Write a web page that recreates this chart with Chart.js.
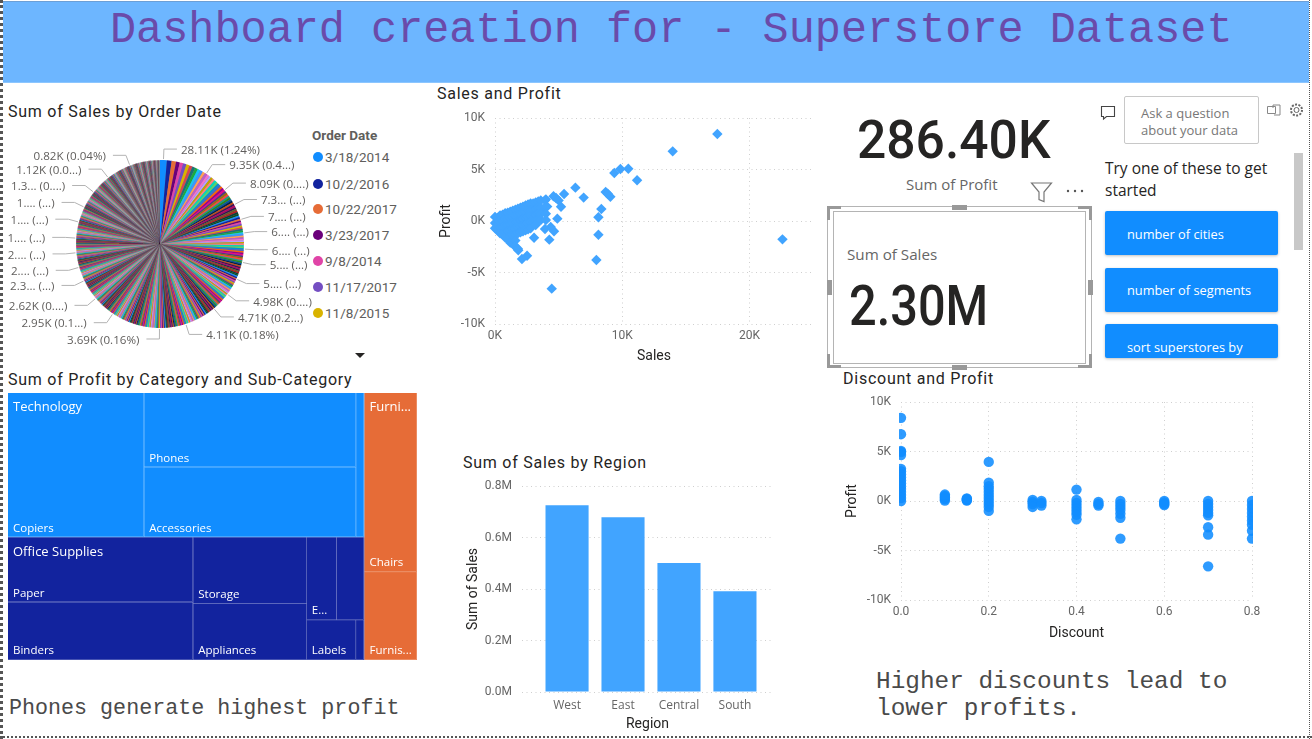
<!DOCTYPE html>
<html><head><meta charset="utf-8">
<script src="https://cdn.jsdelivr.net/npm/chart.js@4"></script>
<style>
html,body{margin:0;padding:0;background:#fff;overflow:hidden}
#page{position:relative;width:1312px;height:739px;overflow:hidden;background:#fff}
.t{position:absolute;white-space:pre}
canvas{position:absolute;display:block}
</style></head><body><div id="page"></div>
<script>
/* ---------- pie: sales per order date, in tens of dollars, largest first ---------- */
const orderDates=["3/18/2014","10/2/2016","10/22/2017","3/23/2017","9/8/2014","11/17/2017","11/8/2015"];
const pieSales=[2811,1960,1830,1530,1440,1370,1310,1280,1230,1190,1150,1110,1080,1050,1020,
935,928,915,907,893,884,872,858,841,826,817,809,
801,792,783,776,767,761,752,744,738,730,
727,725,721,718,716,712,709,705,703,700,
696,689,684,679,673,666,662,657,650,
646,641,634,631,625,621,614,610,606,600,
596,591,584,581,574,571,566,559,556,551,546,
541,538,536,534,531,528,527,524,521,519,516,514,511,510,
509,508,507,507,506,505,505,504,503,503,502,501,500,499,498,
497,496,495,494,493,491,490,489,487,486,485,483,482,480,478,475,472,
470,468,467,465,464,462,461,459,458,456,455,453,451,450,448,447,445,443,442,440,438,436,434,432,430,427,425,423,420,418,415,412,
410,408,407,405,404,402,401,399,398,396,395,393,392,390,389,387,386,384,383,381,380,379,377,376,375,373,372,370,369,
368,367,366,365,364,362,361,360,359,358,357,356,355,354,353,352,350,349,348,347,346,345,344,343,342,341,340,339,338,337,336,335,334,333,332,331,330,329,328,327,326,325,324,323,322,321,320,319,318,316,315,314,313,312,310,309,308,307,305,304,303,302,300,298,296,
294,293,292,291,290,289,288,287,286,285,284,283,282,281,280,279,278,277,276,275,274,273,272,271,270,269,268,267,266,265,265,264,263,263,262,262,
261,260,259,258,257,256,255,254,254,253,252,251,250,249,248,248,247,246,245,244,243,243,242,241,240,239,238,237,236,235,
234,233,232,231,230,229,229,228,227,227,226,225,224,224,223,222,222,221,220,220,219,218,218,217,216,216,215,214,
213,213,212,211,211,210,210,209,208,208,207,207,206,206,205,205,204,204,203,203,202,202,201,201,200,200,199,199,198,198,
197,197,196,196,195,194,194,193,193,192,192,191,190,190,189,189,188,188,187,186,186,185,185,184,184,183,182,182,181,180,180,179,178,
177,177,176,175,175,174,174,173,172,172,171,171,170,170,169,168,168,167,167,166,165,165,164,164,163,163,162,161,161,160,160,159,158,158,157,157,156,155,155,154,
153,153,152,152,151,151,150,150,149,149,148,148,147,147,146,146,145,145,144,144,143,143,143,142,142,141,141,140,140,140,139,139,138,138,138,137,137,136,136,135,135,135,134,134,
133,133,133,132,132,132,131,131,131,130,130,130,129,129,129,128,128,128,127,127,127,126,126,126,125,125,125,124,124,124,123,123,123,122,122,122,121,121,121,120,120,120,119,119,119,118,118,118,117,117,116,116,116,115,115,115,
114,114,114,113,113,113,112,112,112,112,111,111,111,110,110,110,110,109,109,109,108,108,108,108,107,107,107,106,106,106,106,105,105,105,104,104,104,104,103,103,103,103,102,102,102,102,101,101,101,101,100,100,100,100,99,99,99,99,98,98,98,98,97,97,97,97,96,96,96,96,95,95,95,
95,94,94,94,94,93,93,93,93,93,92,92,92,92,92,91,91,91,91,91,90,90,90,90,90,89,89,89,89,89,88,88,88,88,88,87,87,87,87,87,86,86,86,86,86,85,85,85,85,85,84,84,84,84,84,83,83,83,83,83,82,82,82,82,82,
81,81,81,80,80,80,79,79,79,78,78,78,77,77,77,76,76,76,75,75,75,74,74,74,73,73,73,72,72,72,71,71,71,70,70,70,69,69,69,68,68,68,67,67,67,66,66,66,65,65,65,64,64,64,63,63,63,62,62,62,61,61,61,60,60,60,59,59,59,58,58,58,57,57,57,56,56,56,55,55,55,54,54,54,53,53,53,52,52,52,51,51,51,50,50,50,49,49,49,48,48,48,47,47,47,46,46,46,45,45,45,44,44,44,43,43,43,42,42,42,41,41,41,40,40,40,39,39,39,38,38,38,37,37,37,36,36,36,35,35,35,34,34,34,33,33,33,32,32,32,31,31,31,30,30,30,29,29,29,28,28,28,27,27,27,26,26,26,25,25,25,24,24,24,23,23,23];
const pieLabelText=["28.11K (1.24%)","9.35K (0.4...)","8.09K (0....)","7.3... (...)","7.... (...)","6.... (...)","6.... (...)","5.... (...)","5.... (...)","4.98K (0....)","4.71K (0.2...)","4.11K (0.18%)","3.69K (0.16%)","2.95K (0.1...)","2.62K (0....)","2.3... (...)","2.... (...)","2.... (...)","1.... (...)","1.... (...)","1.... (...)","1.3... (0....)","1.12K (0.0...)","0.82K (0.04%)"];
const pieLabelDeg=[2.2,34,50,62,73,83,93,103,115,127,140,162,180.4,214,230,244,254,264,274,285,296,308,322,339];
const piePalette=["#118DFF","#12239E","#E66C37","#6B007B","#E044A7","#744EC2","#D9B300","#D64550","#197278","#1AAB40","#15C6F4","#4092FF","#FFA058","#BE5DC9","#F472D0","#B5A1FF","#C4A200","#FF8080","#00DBBC","#5BD667","#0091D5","#4668C5","#FF6300","#99008A","#EC008C","#533285","#99700A","#FF4141","#1F9A85","#25891C","#0057A2","#002050","#C94F0F","#450F54","#B60064","#34124F","#6A5A29","#BA141A","#0C3D37","#0B511F"];

/* ---------- scatter: sales and profit, thousands ---------- */
const scatterSales=[17.48,13.97,10.48,9.86,9.38,11.17,6.32,6.97,8.7,8.86,9.07,8.36,8.13,8.13,7.97,22.6,4.46,2.52,2.12,1.83,3.07,4.27,4.64,4.38,3.93,4.9,5.19,5.43,4.8,3.93,4.6,5.0,4.1,3.6,
0,0,0,.2,.2,.2,.4,.4,.4,.4,.6,.6,.6,.6,.8,.8,.8,.8,.8,1,1,1,1,1,1.2,1.2,1.2,1.2,1.2,1.2,1.4,1.4,1.4,1.4,1.4,1.4,1.6,1.6,1.6,1.6,1.6,1.6,1.6,1.8,1.8,1.8,1.8,1.8,1.8,2,2,2,2,2,2.2,2.2,2.2,2.2,2.2,2.4,2.4,2.4,2.4,2.4,2.6,2.6,2.6,2.6,2.6,2.8,2.8,2.8,2.8,2.8,3,3,3,3,3.2,3.2,3.2,3.2,3.2,3.4,3.4,3.4,3.4,3.6,3.6,3.6,3.6,4,4,4,4];
const scatterProfit=[8.45,6.76,5.08,5.05,4.66,3.95,3.24,2.27,2.82,2.65,2.36,1.17,.36,-1.33,-3.79,-1.78,-6.57,-3.37,-3.69,-2.85,-1.62,-1.81,-1,-.58,-.78,.23,1.39,2.62,2.23,2,2.4,2.0,1.4,1.1,
.4,-.2,-.7,.3,-.3,-.9,.55,0,-.6,-1.2,.6,0,-.6,-1.3,.75,.2,-.4,-1,-1.6,.8,.2,-.4,-1,-1.7,.9,.3,-.3,-.9,-1.5,-2.1,1,.4,-.2,-.8,-1.4,-2.2,1.1,.5,-.1,-.7,-1.3,-1.9,-2.5,1.2,.6,0,-.6,-1.2,-2.7,1.3,.7,.1,-.5,-1.1,1.4,.8,.2,-.4,-1,1.5,.9,.3,-.3,-.9,1.6,1,.4,-.2,-.8,1.7,1.1,.5,-.1,-.7,1.7,1.1,.5,-.1,1.8,1.2,.6,0,-.4,1.9,1.3,.7,.1,2,1.3,.7,.1,2.1,1.4,.7,.1];

/* ---------- scatter: discount and profit, thousands ---------- */
const discountLevels=[0,.1,.15,.2,.3,.32,.4,.45,.5,.6,.7,.8];
const discountProfit=[
[8.4,6.75,5.05,4.95,4.65,3.25,3,2.7,2.4,2.1,1.8,1.5,1.2,.9,.6,.3,0],
[.05,.2,.35,.5,.65],
[.05,.1,.2,.25],
[3.95,1.85,1.5,1.2,.9,.6,.3,0,-.3,-.6,-1],
[.1,-.1,-.3,-.6],
[0,-.2,-.45],
[1.15,.1,-.2,-.5,-.8,-1.1,-1.4,-1.85],
[-.1,-.3,-.45],
[0,-.3,-.6,-.9,-1.3,-1.7,-3.8],
[0,-.15,-.3,-.4],
[0,-.3,-.6,-.9,-1.2,-1.45,-2.65,-3.4,-6.6],
[0,-.4,-.8,-1.2,-1.6,-2,-2.4,-3,-3.8]];

/* ---------- bars ---------- */
const regions=["West","East","Central","South"];
const regionSales=[725458,678781,501240,391722];

/* ---------- treemap: profit by sub-category ---------- */
const techNames=["Copiers","Phones","Accessories",""];
const techProfit=[55618,44516,41937,3385];
const officeNames=["Paper","Binders","Storage","Appliances","E...","","Labels",""];
const officeProfit=[34054,30222,21279,18138,6964,6528,5546,950];
const furnNames=["Chairs","Furnis..."];
const furnProfit=[26590,13059];

/* ---------- static text ---------- */
const DIN="Roboto",SEG="'Open Sans'",MONO="'Liberation Mono'";
const page=document.getElementById('page');
function box(l,t,w,h,css){const d=document.createElement('div');d.style.cssText=`position:absolute;left:${l}px;top:${t}px;width:${w}px;height:${h}px;${css||''}`;page.appendChild(d);return d;}
function txt(s,x,y,size,color,font,extra){const d=document.createElement('div');d.className='t';d.textContent=s;
 d.style.cssText+=`left:${x}px;top:${y-15}px;line-height:30px;height:30px;font-size:${size}px;color:${color};font-family:${font};${extra||''}`;page.appendChild(d);return d;}

box(3,1,1306,82,'background:#6DB6FF;border-top:1px solid #6c9fd6;box-sizing:border-box;border-bottom:1px solid #8cc6ff');
box(0,0,0,739,'border-left:3px dotted #555');
box(1309,0,0,739,'border-left:1px dotted #555');
box(0,736,1312,0,'border-top:2px dotted #555');
txt("Dashboard creation for - Superstore Dataset",110,31,43.5,"#6A4BAA",MONO);

const ts=`letter-spacing:.75px;font-weight:400;`;
txt("Sum of Sales by Order Date",8,112,16,"#252423",DIN,ts);
txt("Sales and Profit",437,94,16,"#252423",DIN,ts);
txt("Sum of Profit by Category and Sub-Category",8,380,16,"#252423",DIN,ts);
txt("Sum of Sales by Region",463,463,16,"#252423",DIN,ts);
txt("Discount and Profit",843,379,16,"#252423",DIN,ts);

txt("Order Date",312,135,13.5,"#605E5C",DIN,"font-weight:700");
const legendY=[157,184,209,235,261,287,313];
orderDates.forEach((d,i)=>{
 box(313,legendY[i]-5,10,10,`border-radius:50%;background:${piePalette[i]}`);
 txt(d,325,legendY[i],13.5,"#605E5C",DIN);
});
box(355,353,0,0,'border-left:5px solid transparent;border-right:5px solid transparent;border-top:5px solid #252423');

txt("Phones generate highest profit",9,709,21.7,"#4a4a4a",MONO);
txt("Higher discounts lead to",876,682,24.4,"#4a4a4a",MONO);
txt("lower profits.",876,709,24.4,"#4a4a4a",MONO);

/* KPI cards */
txt("286.40K",857,140,54,"#252423",DIN,"font-weight:500;transform:scaleX(.955);transform-origin:left center");
txt("Sum of Profit",906,184,15,"#666666",SEG);
txt("Sum of Sales",847,254,15.2,"#666666",SEG);
txt("2.30M",849,306,56,"#252423",DIN,"font-weight:500;transform:scaleX(.87);transform-origin:left center");
box(827,206,265,162,'border:1px solid #b4b4b4;box-sizing:border-box');
box(833,211,253,153,'border:1px solid #b4b4b4;box-sizing:border-box');
[[827,206,14,3],[827,206,3,14],[1078,206,14,3],[1089,206,3,14],[827,365,14,3],[827,354,3,14],[1078,365,14,3],[1089,354,3,14],[952,205,15,5],[952,365,15,5],[827,280,5,15],[1088,280,5,15]].forEach(h=>box(h[0],h[1],h[2],h[3],'background:#999'));

/* Q&A panel */
box(1124,96,135,48,'border:1px solid #c8c8c8;border-radius:2px;box-sizing:border-box');
txt("Ask a question",1141,113,13,"#777",SEG);
txt("about your data",1141,130,13,"#777",SEG);
txt("Try one of these to get",1105,168,15.5,"#252423",SEG);
txt("started",1105,190,15.5,"#252423",SEG);
box(1294,153,9,97,'background:#c8c8c8');
[[211,44],[268,44],[324,34]].forEach(b=>box(1105,b[0],173,b[1],'background:#118DFF;border-radius:2px;box-shadow:0 1px 3px rgba(0,0,0,.25)'));
txt("number of cities",1127,234,12.8,"#fff",SEG);
txt("number of segments",1127,290,12.8,"#fff",SEG);
const clip=box(1105,324,173,34,'overflow:hidden');
const so=document.createElement('div');so.className='t';so.textContent="sort superstores by";so.style.cssText="left:22px;top:8px;line-height:30px;font-size:12.8px;color:#fff;font-family:"+SEG;clip.appendChild(so);
const icons=box(0,0,1312,739,'pointer-events:none');
icons.innerHTML=`<svg width="1312" height="739" style="position:absolute;left:0;top:0" fill="none">
<path d="M1031.5 183h20l-7.5 9v9.500l-5 -2v-7.500z" stroke="#777" stroke-width="1.200"/>
<circle cx="1068" cy="191" r="1.200" fill="#555"/><circle cx="1075" cy="191" r="1.200" fill="#555"/><circle cx="1082" cy="191" r="1.200" fill="#555"/>
<path d="M1101.500 106.500h13v10h-8l-3 2.500v-2.500h-2z" stroke="#444" stroke-width="1.100"/>
<path d="M1267.500 106.500h8v7h-8zM1273 108v-3h7v10h-6" stroke="#888" stroke-width="1"/>
<circle cx="1296.500" cy="110" r="2.500" stroke="#666" stroke-width="1"/><circle cx="1296.500" cy="110" r="5.500" stroke="#666" stroke-width="2" stroke-dasharray="2 1.400"/>
</svg>`;

/* ---------- chart helpers ---------- */
Chart.defaults.animation=false;
Chart.defaults.responsive=false;
Chart.defaults.plugins.legend.display=false;
Chart.defaults.plugins.tooltip.enabled=false;
function canvas(l,t,w,h){const c=document.createElement('canvas');c.width=w;c.height=h;c.style.cssText=`left:${l}px;top:${t}px;width:${w}px;height:${h}px`;page.appendChild(c);return c;}
const gridOpt={color:'#cfcfcf',lineWidth:1,drawTicks:false};
const borderOpt={display:false,dash:[1,3.5]};
const tickFont={family:DIN,size:12};
const titleFont={family:DIN,size:14,weight:'400'};
const fitX=h=>s=>{s.height=h;s.paddingLeft=0;s.paddingRight=0;};
const fitY=w=>s=>{s.width=w;s.paddingTop=0;s.paddingBottom=0;};
function xAxis(title,h,extra){return Object.assign({type:'linear',afterFit:fitX(h),grid:gridOpt,border:borderOpt,
 title:{display:true,text:title,color:'#252423',font:titleFont,padding:{top:0,bottom:2}}},extra);}
function yAxis(title,w,extra){return Object.assign({type:'linear',afterFit:fitY(w),grid:gridOpt,border:borderOpt,
 title:{display:true,text:title,color:'#252423',font:titleFont,padding:{top:3,bottom:0}}},extra);}
const kTick=v=>(v/1)+'K';

/* ---------- pie ---------- */
const pieLabels={id:'pieLabels',
beforeDatasetsDraw(chart){
 const a=chart.getDatasetMeta(0).data[0].getProps(['x','y','outerRadius'],true),ctx=chart.ctx;
 ctx.save();ctx.fillStyle='#858585';ctx.beginPath();ctx.arc(a.x,a.y,a.outerRadius-.5,0,Math.PI*2);ctx.fill();ctx.restore();
},
afterDatasetsDraw(chart){
 const ctx=chart.ctx,arcs=chart.getDatasetMeta(0).data;
 ctx.save();ctx.font=`11.6px ${SEG}`;ctx.textBaseline='middle';
 pieLabelDeg.forEach((deg,k)=>{
  const target=deg*Math.PI/180-Math.PI/2;
  const a=arcs.find(e=>{const p=e.getProps(['startAngle','endAngle'],true);return p.startAngle<=target&&target<=p.endAngle;})||arcs[arcs.length-1];
  const p=a.getProps(['x','y','startAngle','endAngle','outerRadius'],true);
  const m=(p.startAngle+p.endAngle)/2,R=p.outerRadius;
  const ex=p.x+(R+11)*Math.cos(m),ey=p.y+(R+11)*Math.sin(m);
  const dir=deg<=180?1:-1;
  ctx.strokeStyle='#b3b3b3';ctx.lineWidth=1;ctx.beginPath();
  ctx.moveTo(p.x+(R+1)*Math.cos(m),p.y+(R+1)*Math.sin(m));ctx.lineTo(ex,ey);ctx.lineTo(ex+dir*13,ey);ctx.stroke();
  ctx.fillStyle='#605E5C';ctx.textAlign=dir>0?'left':'right';
  ctx.fillText(pieLabelText[k],ex+dir*(dir>0?17:20),ey+1.5);
 });
 ctx.restore();
}};
new Chart(canvas(0,130,320,228),{type:'pie',
 data:{labels:pieSales.map((v,i)=>orderDates[i]||''),datasets:[{data:pieSales,backgroundColor:pieSales.map((v,i)=>piePalette[i%piePalette.length]),borderWidth:0}]},
 options:{radius:84,layout:{padding:0}},plugins:[pieLabels]});

/* ---------- sales/profit scatter ---------- */
new Chart(canvas(435,106,385,261),{type:'scatter',
 data:{datasets:[{data:scatterSales.map((x,i)=>({x,y:scatterProfit[i]})),pointStyle:'rectRot',pointRadius:5.2,backgroundColor:'#41A4FF',borderWidth:0,clip:6}]},
 options:{layout:{padding:{left:0,top:12,right:7,bottom:0}},scales:{
  x:xAxis('Sales',43,{min:0,max:25,ticks:{stepSize:10,includeBounds:false,callback:kTick,color:'#666',font:tickFont,padding:5,maxRotation:0}}),
  y:yAxis('Profit',60,{min:-10,max:10,ticks:{stepSize:5,callback:kTick,color:'#666',font:tickFont,padding:10}})}}});

/* ---------- discount/profit scatter ---------- */
const discountPts=[];discountLevels.forEach((d,i)=>discountProfit[i].forEach(y=>discountPts.push({x:d,y})));
new Chart(canvas(841,390,432,254),{type:'scatter',
 data:{datasets:[{data:discountPts,pointStyle:'circle',pointRadius:5.2,backgroundColor:'rgba(17,141,255,.88)',borderWidth:0,clip:{left:2,right:1,top:6,bottom:6}}]},
 options:{layout:{padding:{left:0,top:12,right:21,bottom:0}},scales:{
  x:xAxis('Discount',44,{min:0,max:.8,ticks:{stepSize:.2,callback:v=>v.toFixed(1),color:'#666',font:tickFont,padding:5,maxRotation:0}}),
  y:yAxis('Profit',60,{min:-10,max:10,ticks:{stepSize:5,callback:kTick,color:'#666',font:tickFont,padding:10}})}}});

/* ---------- region bars ---------- */
new Chart(canvas(462,474,321,262),{type:'bar',
 data:{datasets:[{data:regionSales.map((y,i)=>({x:i,y})),backgroundColor:'#41A4FF',borderWidth:0,barPercentage:.77,categoryPercentage:1}]},
 options:{layout:{padding:{left:0,top:12,right:10,bottom:0}},scales:{
  x:{type:'linear',offset:false,min:-.805,max:3.68,afterFit:fitX(44),grid:{display:false,drawTicks:false,offset:false},border:{display:false},
   ticks:{stepSize:1,includeBounds:false,autoSkip:false,maxRotation:0,padding:6,color:'#666',font:{family:SEG,size:12},callback:v=>regions[v]??''},
   title:{display:true,text:'Region',color:'#252423',font:titleFont,padding:{top:0,bottom:3}}},
  y:yAxis('Sum of Sales',60,{min:0,max:800000,ticks:{stepSize:200000,callback:v=>(v/1e6).toFixed(1)+'M',color:'#666',font:tickFont,padding:10}})}}});

/* ---------- treemap, laid out from the profit values ---------- */
const leaf=(n,v,c)=>({name:n,v,color:c});
const BLUE='#118DFF',NAVY='#12239E',ORANGE='#E66C37';
const kidsT=techNames.map((n,i)=>leaf(n,techProfit[i],BLUE));
const kidsO=officeNames.map((n,i)=>leaf(n,officeProfit[i],NAVY));
const kidsF=furnNames.map((n,i)=>leaf(n,furnProfit[i],ORANGE));
const treeRoot={dir:'h',kids:[
 {dir:'v',kids:[
  {dir:'h',head:'Technology',color:BLUE,kids:[kidsT[0],{dir:'v',kids:[kidsT[1],kidsT[2]]},kidsT[3]]},
  {dir:'h',head:'Office Supplies',color:NAVY,kids:[{dir:'v',kids:[kidsO[0],kidsO[1]]},{dir:'v',kids:[kidsO[2],kidsO[3]]},
    {dir:'v',kids:[{dir:'h',kids:[kidsO[4],kidsO[5]]},{dir:'h',kids:[kidsO[6],kidsO[7]]}]}]}]},
 {dir:'v',head:'Furni...',color:ORANGE,kids:kidsF}]};
const total=n=>n.kids?n.kids.reduce((s,k)=>s+total(k),0):n.v;
const treemap={id:'treemap',afterDatasetsDraw(chart){
 const ctx=chart.ctx,X=chart.scales.x,Y=chart.scales.y;
 const heads=[];
 (function walk(n,x0,y0,x1,y1){
  if(n.head)heads.push([n.head,x0,y0]);
  if(n.kids){let c=n.dir==='h'?x0:y0;const T=total(n);
   n.kids.forEach(k=>{const f=total(k)/T;
    if(n.dir==='h'){const e=c+(x1-x0)*f;walk(k,c,y0,e,y1);c=e;}
    else{const e=c+(y1-y0)*f;walk(k,x0,c,x1,e);c=e;}});
   return;}
  const L=X.getPixelForValue(x0),R=X.getPixelForValue(x1),TT=Y.getPixelForValue(y0),B=Y.getPixelForValue(y1);
  ctx.fillStyle=n.color;ctx.fillRect(L,TT,R-L,B-TT);
  ctx.strokeStyle='rgba(255,255,255,.22)';ctx.lineWidth=1;ctx.beginPath();
  const rx=Math.round(R)-.5,by=Math.round(B)-.5;
  ctx.moveTo(rx,TT);ctx.lineTo(rx,by);ctx.lineTo(L,by);ctx.stroke();
  if(n.name){ctx.fillStyle='#fff';ctx.font=`11.500px ${SEG}`;ctx.textBaseline='middle';ctx.textAlign='left';ctx.fillText(n.name,L+5,B-9);}
 })(treeRoot,0,0,1,1);
 heads.forEach(h=>{ctx.fillStyle='#fff';ctx.font=`13px ${SEG}`;ctx.textBaseline='middle';ctx.textAlign='left';
  ctx.fillText(h[0],X.getPixelForValue(h[1])+5,Y.getPixelForValue(h[2])+14.5);});
}};
new Chart(canvas(8,393,409,267),{type:'scatter',data:{datasets:[{data:[]}]},
 options:{layout:{padding:0},scales:{x:{type:'linear',min:0,max:1,display:false},y:{type:'linear',min:0,max:1,reverse:true,display:false}}},plugins:[treemap]});
</script></body></html>
